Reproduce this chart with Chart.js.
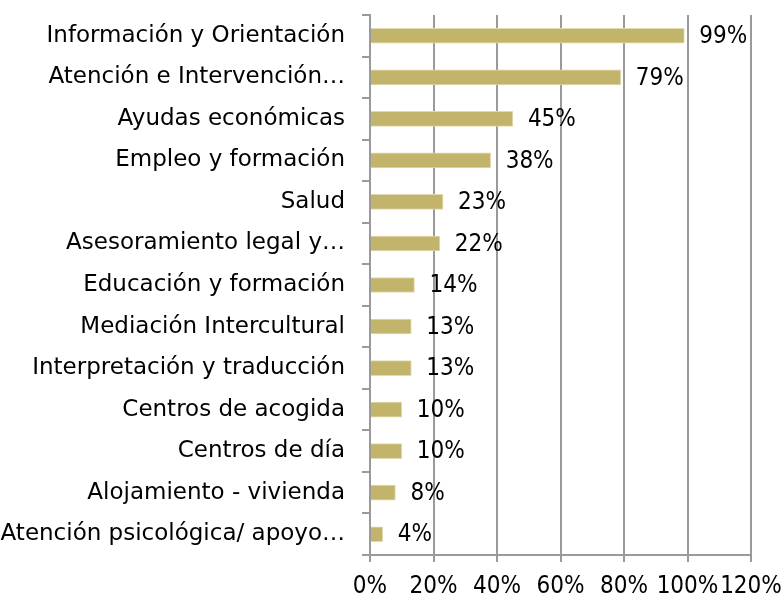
<!DOCTYPE html>
<html>
<head>
<meta charset="utf-8">
<script src="https://cdn.jsdelivr.net/npm/chart.js@4"></script>
<style>
  html, body { margin: 0; padding: 0; background: #fff; }
  #wrap { width: 784px; height: 598px; }
</style>
</head>
<body>
<div id="wrap"><canvas id="barChart" width="784" height="598"></canvas></div>
<script>
const categories = [
    "Información y Orientación",
    "Atención e Intervención…",
    "Ayudas económicas",
    "Empleo y formación",
    "Salud",
    "Asesoramiento legal y…",
    "Educación y formación",
    "Mediación Intercultural",
    "Interpretación y traducción",
    "Centros de acogida",
    "Centros de día",
    "Alojamiento - vivienda",
    "Atención psicológica/ apoyo…"
];
const values = [99, 79, 45, 38, 23, 22, 14, 13, 13, 10, 10, 8, 4];
const xTicks = [0, 20, 40, 60, 80, 100, 120];

const labelFont = "'DejaVu Sans', sans-serif";
const numberFont = "'Liberation Sans Narrow', 'DejaVu Sans Condensed', sans-serif";

// draws the "99%" style labels right of each bar
const valueLabels = {
    id: 'valueLabels',
    afterDatasetsDraw(chart) {
        const ctx = chart.ctx;
        const meta = chart.getDatasetMeta(0);
        ctx.save();
        ctx.font = '24px ' + numberFont;
        ctx.fillStyle = '#000';
        ctx.textAlign = 'left';
        ctx.textBaseline = 'middle';
        meta.data.forEach((bar, i) => {
            ctx.fillText(values[i] + '%', bar.x + 15, bar.y + 1);
        });
        ctx.restore();
    }
};

new Chart(document.getElementById('barChart'), {
    type: 'bar',
    data: {
        labels: categories,
        datasets: [{
            data: values,
            backgroundColor: '#C3B46B',
            borderColor: '#E2DAB0',
            borderWidth: 1,
            barThickness: 15
        }]
    },
    options: {
        indexAxis: 'y',
        responsive: false,
        animation: false,
        layout: { padding: { left: 0, right: 33, top: 15, bottom: 0 } },
        plugins: {
            legend: { display: false },
            tooltip: { enabled: false }
        },
        scales: {
            x: {
                min: 0,
                max: 120,
                afterBuildTicks: scale => { scale.ticks = xTicks.map(v => ({ value: v })); },
                afterFit: scale => {
                    scale.height = 43;
                    scale.paddingLeft = 0;
                    scale.paddingRight = 0;
                },
                ticks: {
                    callback: v => v + '%',
                    color: '#000',
                    font: { family: numberFont, size: 24 },
                    padding: 10,
                    autoSkip: false,
                    maxRotation: 0
                },
                grid: { color: '#9a9a9a', lineWidth: 2, tickLength: 7 },
                border: { color: '#9a9a9a', width: 2 }
            },
            y: {
                afterFit: scale => {
                    scale.width = 370;
                    scale.paddingTop = 0;
                    scale.paddingBottom = 0;
                },
                ticks: {
                    color: '#000',
                    font: { family: labelFont, size: 23 },
                    padding: 17,
                    autoSkip: false
                },
                grid: { offset: true, drawOnChartArea: false, color: '#9a9a9a', lineWidth: 2, tickLength: 8 },
                border: { color: '#9a9a9a', width: 2 }
            }
        }
    },
    plugins: [valueLabels]
});
</script>
</body>
</html>
